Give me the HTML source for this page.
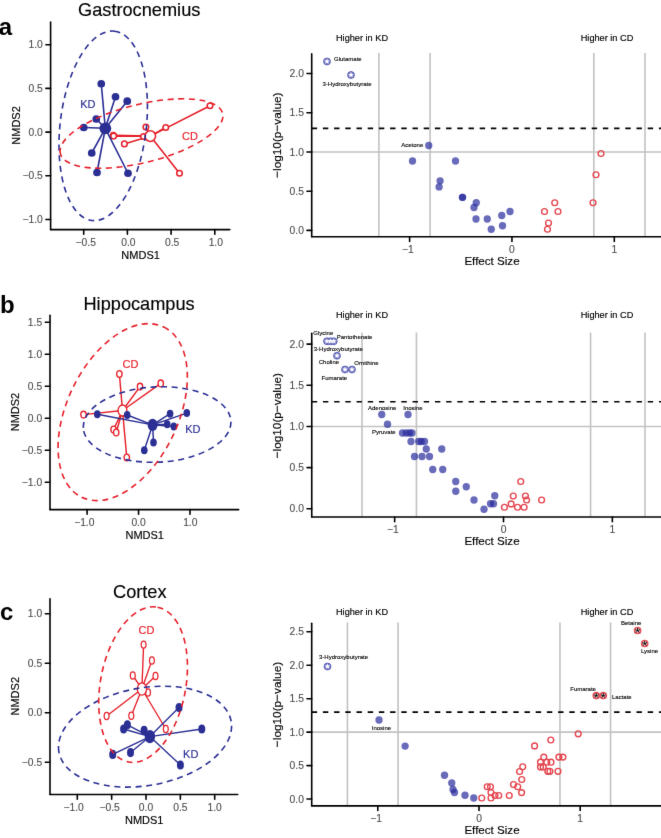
<!DOCTYPE html>
<html><head><meta charset="utf-8"><style>
html,body{margin:0;padding:0;background:#fff;}
body{width:661px;height:838px;overflow:hidden;}
svg{display:block;font-family:"Liberation Sans", sans-serif;}
</style></head><body><div id="w">
<svg width="661" height="838" viewBox="0 0 661 838">
<defs><filter id="bl" x="0" y="0" width="661" height="838" filterUnits="userSpaceOnUse" color-interpolation-filters="sRGB"><feConvolveMatrix order="3" kernelMatrix="0.0052 0.0619 0.0052 0.0619 0.731 0.0619 0.0052 0.0619 0.0052" edgeMode="duplicate" preserveAlpha="true"/></filter></defs>
<g filter="url(#bl)">
<rect width="661" height="838" fill="#fff"/>
<text x="-1.20" y="35.00" font-size="24" fill="#000" text-anchor="start" font-weight="bold" >a</text>
<text x="139.20" y="15.90" font-size="18.2" fill="#000" stroke="#000" stroke-width="0.15" text-anchor="middle" font-weight="normal" >Gastrocnemius</text>
<line x1="50.60" y1="22.10" x2="50.60" y2="229.60" stroke="#000" stroke-width="1.6" stroke-linecap="round"/>
<line x1="50.60" y1="229.60" x2="229.80" y2="229.60" stroke="#000" stroke-width="1.6" stroke-linecap="round"/>
<line x1="45.90" y1="44.70" x2="50.60" y2="44.70" stroke="#000" stroke-width="1.6" stroke-linecap="round"/>
<text x="42.80" y="48.30" font-size="10.3" fill="#4d4d4d" stroke="#4d4d4d" stroke-width="0.12" text-anchor="end" font-weight="normal" >1.0</text>
<line x1="45.90" y1="88.40" x2="50.60" y2="88.40" stroke="#000" stroke-width="1.6" stroke-linecap="round"/>
<text x="42.80" y="92.00" font-size="10.3" fill="#4d4d4d" stroke="#4d4d4d" stroke-width="0.12" text-anchor="end" font-weight="normal" >0.5</text>
<line x1="45.90" y1="132.10" x2="50.60" y2="132.10" stroke="#000" stroke-width="1.6" stroke-linecap="round"/>
<text x="42.80" y="135.70" font-size="10.3" fill="#4d4d4d" stroke="#4d4d4d" stroke-width="0.12" text-anchor="end" font-weight="normal" >0.0</text>
<line x1="45.90" y1="175.80" x2="50.60" y2="175.80" stroke="#000" stroke-width="1.6" stroke-linecap="round"/>
<text x="42.80" y="179.40" font-size="10.3" fill="#4d4d4d" stroke="#4d4d4d" stroke-width="0.12" text-anchor="end" font-weight="normal" >−0.5</text>
<line x1="45.90" y1="219.50" x2="50.60" y2="219.50" stroke="#000" stroke-width="1.6" stroke-linecap="round"/>
<text x="42.80" y="223.10" font-size="10.3" fill="#4d4d4d" stroke="#4d4d4d" stroke-width="0.12" text-anchor="end" font-weight="normal" >−1.0</text>
<line x1="83.70" y1="229.60" x2="83.70" y2="234.30" stroke="#000" stroke-width="1.6" stroke-linecap="round"/>
<text x="85.70" y="245.90" font-size="10.3" fill="#4d4d4d" stroke="#4d4d4d" stroke-width="0.12" text-anchor="middle" font-weight="normal" >−0.5</text>
<line x1="127.40" y1="229.60" x2="127.40" y2="234.30" stroke="#000" stroke-width="1.6" stroke-linecap="round"/>
<text x="128.40" y="245.90" font-size="10.3" fill="#4d4d4d" stroke="#4d4d4d" stroke-width="0.12" text-anchor="middle" font-weight="normal" >0.0</text>
<line x1="171.10" y1="229.60" x2="171.10" y2="234.30" stroke="#000" stroke-width="1.6" stroke-linecap="round"/>
<text x="172.10" y="245.90" font-size="10.3" fill="#4d4d4d" stroke="#4d4d4d" stroke-width="0.12" text-anchor="middle" font-weight="normal" >0.5</text>
<line x1="214.80" y1="229.60" x2="214.80" y2="234.30" stroke="#000" stroke-width="1.6" stroke-linecap="round"/>
<text x="215.80" y="245.90" font-size="10.3" fill="#4d4d4d" stroke="#4d4d4d" stroke-width="0.12" text-anchor="middle" font-weight="normal" >1.0</text>
<text x="140.60" y="259.30" font-size="11" fill="#000" stroke="#000" stroke-width="0.15" text-anchor="middle" font-weight="normal" >NMDS1</text>
<text x="0" y="0" font-size="11" stroke="#000" stroke-width="0.15" text-anchor="middle" transform="translate(19.60 125.45) rotate(-90)">NMDS2</text>
<line x1="210.00" y1="105.75" x2="150.30" y2="136.10" stroke="#e6202a" stroke-width="1.6" />
<line x1="165.75" y1="127.50" x2="150.30" y2="136.10" stroke="#e6202a" stroke-width="1.6" />
<line x1="145.90" y1="127.00" x2="150.30" y2="136.10" stroke="#e6202a" stroke-width="1.6" />
<line x1="124.40" y1="143.90" x2="150.30" y2="136.10" stroke="#e6202a" stroke-width="1.6" />
<line x1="113.30" y1="135.30" x2="150.30" y2="136.10" stroke="#e6202a" stroke-width="1.6" />
<line x1="113.60" y1="136.10" x2="150.30" y2="136.10" stroke="#e6202a" stroke-width="1.6" />
<line x1="179.50" y1="173.25" x2="150.30" y2="136.10" stroke="#e6202a" stroke-width="1.6" />
<line x1="143.50" y1="136.50" x2="150.30" y2="136.10" stroke="#e6202a" stroke-width="1.6" />
<ellipse cx="210.00" cy="105.75" rx="2.8" ry="2.8" fill="#fff" stroke="#e6202a" stroke-width="1.5"/>
<ellipse cx="165.75" cy="127.50" rx="2.8" ry="2.8" fill="#fff" stroke="#e6202a" stroke-width="1.5"/>
<ellipse cx="145.90" cy="127.00" rx="2.8" ry="2.8" fill="#fff" stroke="#e6202a" stroke-width="1.5"/>
<ellipse cx="124.40" cy="143.90" rx="2.8" ry="2.8" fill="#fff" stroke="#e6202a" stroke-width="1.5"/>
<ellipse cx="113.30" cy="135.30" rx="2.8" ry="2.8" fill="#fff" stroke="#e6202a" stroke-width="1.5"/>
<ellipse cx="113.60" cy="136.10" rx="2.8" ry="2.8" fill="#fff" stroke="#e6202a" stroke-width="1.5"/>
<ellipse cx="179.50" cy="173.25" rx="2.8" ry="2.8" fill="#fff" stroke="#e6202a" stroke-width="1.5"/>
<ellipse cx="143.50" cy="136.50" rx="2.8" ry="2.8" fill="#fff" stroke="#e6202a" stroke-width="1.5"/>
<ellipse cx="150.30" cy="136.10" rx="5.300000000000001" ry="5.300000000000001" fill="#fff" stroke="#e6202a" stroke-width="1.5"/>
<line x1="101.25" y1="83.75" x2="105.30" y2="128.30" stroke="#2b2f94" stroke-width="1.6" />
<line x1="115.50" y1="96.75" x2="105.30" y2="128.30" stroke="#2b2f94" stroke-width="1.6" />
<line x1="127.25" y1="101.20" x2="105.30" y2="128.30" stroke="#2b2f94" stroke-width="1.6" />
<line x1="96.25" y1="119.00" x2="105.30" y2="128.30" stroke="#2b2f94" stroke-width="1.6" />
<line x1="83.75" y1="127.50" x2="105.30" y2="128.30" stroke="#2b2f94" stroke-width="1.6" />
<line x1="91.75" y1="153.00" x2="105.30" y2="128.30" stroke="#2b2f94" stroke-width="1.6" />
<line x1="97.00" y1="172.50" x2="105.30" y2="128.30" stroke="#2b2f94" stroke-width="1.6" />
<line x1="128.00" y1="173.25" x2="105.30" y2="128.30" stroke="#2b2f94" stroke-width="1.6" />
<ellipse cx="101.25" cy="83.75" rx="3.85" ry="3.85" fill="#2b2f94"/>
<ellipse cx="115.50" cy="96.75" rx="3.85" ry="3.85" fill="#2b2f94"/>
<ellipse cx="127.25" cy="101.20" rx="3.85" ry="3.85" fill="#2b2f94"/>
<ellipse cx="96.25" cy="119.00" rx="3.85" ry="3.85" fill="#2b2f94"/>
<ellipse cx="83.75" cy="127.50" rx="3.85" ry="3.85" fill="#2b2f94"/>
<ellipse cx="91.75" cy="153.00" rx="3.85" ry="3.85" fill="#2b2f94"/>
<ellipse cx="97.00" cy="172.50" rx="3.85" ry="3.85" fill="#2b2f94"/>
<ellipse cx="128.00" cy="173.25" rx="3.85" ry="3.85" fill="#2b2f94"/>
<ellipse cx="105.30" cy="128.30" rx="5.9" ry="5.9" fill="#2b2f94"/>
<ellipse cx="103.21" cy="125.84" rx="95.33" ry="43.08" transform="rotate(-83.22 103.21 125.84)" fill="none" stroke="#2b2f94" stroke-width="1.6" stroke-dasharray="6 4.6"/>
<ellipse cx="141.51" cy="133.51" rx="83.61" ry="29.11" transform="rotate(166.05 141.51 133.51)" fill="none" stroke="#e6202a" stroke-width="1.6" stroke-dasharray="6 4.6"/>
<text x="80.20" y="108.20" font-size="11" fill="#2b2f94" stroke="#2b2f94" stroke-width="0.15" text-anchor="start" font-weight="normal" >KD</text>
<text x="182.00" y="140.00" font-size="11" fill="#e6202a" stroke="#e6202a" stroke-width="0.15" text-anchor="start" font-weight="normal" >CD</text>
<text x="0.00" y="313.20" font-size="24" fill="#000" text-anchor="start" font-weight="bold" >b</text>
<text x="139.10" y="310.00" font-size="18.2" fill="#000" stroke="#000" stroke-width="0.15" text-anchor="middle" font-weight="normal" >Hippocampus</text>
<line x1="50.00" y1="315.30" x2="50.00" y2="509.60" stroke="#000" stroke-width="1.6" stroke-linecap="round"/>
<line x1="50.00" y1="509.60" x2="238.70" y2="509.60" stroke="#000" stroke-width="1.6" stroke-linecap="round"/>
<line x1="45.30" y1="322.30" x2="50.00" y2="322.30" stroke="#000" stroke-width="1.6" stroke-linecap="round"/>
<text x="42.20" y="325.90" font-size="10.3" fill="#4d4d4d" stroke="#4d4d4d" stroke-width="0.12" text-anchor="end" font-weight="normal" >1.5</text>
<line x1="45.30" y1="354.30" x2="50.00" y2="354.30" stroke="#000" stroke-width="1.6" stroke-linecap="round"/>
<text x="42.20" y="357.90" font-size="10.3" fill="#4d4d4d" stroke="#4d4d4d" stroke-width="0.12" text-anchor="end" font-weight="normal" >1.0</text>
<line x1="45.30" y1="386.30" x2="50.00" y2="386.30" stroke="#000" stroke-width="1.6" stroke-linecap="round"/>
<text x="42.20" y="389.90" font-size="10.3" fill="#4d4d4d" stroke="#4d4d4d" stroke-width="0.12" text-anchor="end" font-weight="normal" >0.5</text>
<line x1="45.30" y1="418.30" x2="50.00" y2="418.30" stroke="#000" stroke-width="1.6" stroke-linecap="round"/>
<text x="42.20" y="421.90" font-size="10.3" fill="#4d4d4d" stroke="#4d4d4d" stroke-width="0.12" text-anchor="end" font-weight="normal" >0.0</text>
<line x1="45.30" y1="450.30" x2="50.00" y2="450.30" stroke="#000" stroke-width="1.6" stroke-linecap="round"/>
<text x="42.20" y="453.90" font-size="10.3" fill="#4d4d4d" stroke="#4d4d4d" stroke-width="0.12" text-anchor="end" font-weight="normal" >−0.5</text>
<line x1="45.30" y1="482.30" x2="50.00" y2="482.30" stroke="#000" stroke-width="1.6" stroke-linecap="round"/>
<text x="42.20" y="485.90" font-size="10.3" fill="#4d4d4d" stroke="#4d4d4d" stroke-width="0.12" text-anchor="end" font-weight="normal" >−1.0</text>
<line x1="87.10" y1="509.60" x2="87.10" y2="514.30" stroke="#000" stroke-width="1.6" stroke-linecap="round"/>
<text x="84.30" y="525.90" font-size="10.3" fill="#4d4d4d" stroke="#4d4d4d" stroke-width="0.12" text-anchor="middle" font-weight="normal" >−1.0</text>
<line x1="138.55" y1="509.60" x2="138.55" y2="514.30" stroke="#000" stroke-width="1.6" stroke-linecap="round"/>
<text x="138.55" y="525.90" font-size="10.3" fill="#4d4d4d" stroke="#4d4d4d" stroke-width="0.12" text-anchor="middle" font-weight="normal" >0.0</text>
<line x1="190.00" y1="509.60" x2="190.00" y2="514.30" stroke="#000" stroke-width="1.6" stroke-linecap="round"/>
<text x="190.30" y="525.90" font-size="10.3" fill="#4d4d4d" stroke="#4d4d4d" stroke-width="0.12" text-anchor="middle" font-weight="normal" >1.0</text>
<text x="144.75" y="539.30" font-size="11" fill="#000" stroke="#000" stroke-width="0.15" text-anchor="middle" font-weight="normal" >NMDS1</text>
<text x="0" y="0" font-size="11" stroke="#000" stroke-width="0.15" text-anchor="middle" transform="translate(19.30 412.05) rotate(-90)">NMDS2</text>
<line x1="119.40" y1="374.00" x2="122.50" y2="410.50" stroke="#e6202a" stroke-width="1.45" />
<line x1="140.00" y1="386.60" x2="122.50" y2="410.50" stroke="#e6202a" stroke-width="1.45" />
<line x1="160.75" y1="383.40" x2="122.50" y2="410.50" stroke="#e6202a" stroke-width="1.45" />
<line x1="83.50" y1="414.60" x2="122.50" y2="410.50" stroke="#e6202a" stroke-width="1.45" />
<line x1="113.60" y1="429.50" x2="122.50" y2="410.50" stroke="#e6202a" stroke-width="1.45" />
<line x1="116.20" y1="432.50" x2="122.50" y2="410.50" stroke="#e6202a" stroke-width="1.45" />
<line x1="126.80" y1="457.50" x2="122.50" y2="410.50" stroke="#e6202a" stroke-width="1.45" />
<ellipse cx="119.40" cy="374.00" rx="2.6999999999999997" ry="3.4" fill="#fff" stroke="#e6202a" stroke-width="1.35"/>
<ellipse cx="140.00" cy="386.60" rx="2.6999999999999997" ry="3.4" fill="#fff" stroke="#e6202a" stroke-width="1.35"/>
<ellipse cx="160.75" cy="383.40" rx="2.6999999999999997" ry="3.4" fill="#fff" stroke="#e6202a" stroke-width="1.35"/>
<ellipse cx="83.50" cy="414.60" rx="2.6999999999999997" ry="3.4" fill="#fff" stroke="#e6202a" stroke-width="1.35"/>
<ellipse cx="113.60" cy="429.50" rx="2.6999999999999997" ry="3.4" fill="#fff" stroke="#e6202a" stroke-width="1.35"/>
<ellipse cx="116.20" cy="432.50" rx="2.6999999999999997" ry="3.4" fill="#fff" stroke="#e6202a" stroke-width="1.35"/>
<ellipse cx="126.80" cy="457.50" rx="2.6999999999999997" ry="3.4" fill="#fff" stroke="#e6202a" stroke-width="1.35"/>
<ellipse cx="122.50" cy="410.50" rx="4.4" ry="5.5" fill="#fff" stroke="#e6202a" stroke-width="1.35"/>
<line x1="97.30" y1="414.20" x2="152.60" y2="424.90" stroke="#2b2f94" stroke-width="1.45" />
<line x1="127.20" y1="415.00" x2="152.60" y2="424.90" stroke="#2b2f94" stroke-width="1.45" />
<line x1="170.10" y1="413.70" x2="152.60" y2="424.90" stroke="#2b2f94" stroke-width="1.45" />
<line x1="186.80" y1="413.10" x2="152.60" y2="424.90" stroke="#2b2f94" stroke-width="1.45" />
<line x1="167.20" y1="424.30" x2="152.60" y2="424.90" stroke="#2b2f94" stroke-width="1.45" />
<line x1="173.80" y1="426.50" x2="152.60" y2="424.90" stroke="#2b2f94" stroke-width="1.45" />
<line x1="153.50" y1="442.50" x2="152.60" y2="424.90" stroke="#2b2f94" stroke-width="1.45" />
<line x1="144.30" y1="450.30" x2="152.60" y2="424.90" stroke="#2b2f94" stroke-width="1.45" />
<ellipse cx="97.30" cy="414.20" rx="3.3" ry="4.0" fill="#2b2f94"/>
<ellipse cx="127.20" cy="415.00" rx="3.3" ry="4.0" fill="#2b2f94"/>
<ellipse cx="170.10" cy="413.70" rx="3.3" ry="4.0" fill="#2b2f94"/>
<ellipse cx="186.80" cy="413.10" rx="3.3" ry="4.0" fill="#2b2f94"/>
<ellipse cx="167.20" cy="424.30" rx="3.3" ry="4.0" fill="#2b2f94"/>
<ellipse cx="173.80" cy="426.50" rx="3.3" ry="4.0" fill="#2b2f94"/>
<ellipse cx="153.50" cy="442.50" rx="3.3" ry="4.0" fill="#2b2f94"/>
<ellipse cx="144.30" cy="450.30" rx="3.3" ry="4.0" fill="#2b2f94"/>
<ellipse cx="152.60" cy="424.90" rx="5.0" ry="6.1" fill="#2b2f94"/>
<ellipse cx="157.13" cy="424.51" rx="73.85" ry="37.67" transform="rotate(177.37 157.13 424.51)" fill="none" stroke="#2b2f94" stroke-width="1.6" stroke-dasharray="6 4.6"/>
<ellipse cx="122.72" cy="412.13" rx="94.49" ry="55.47" transform="rotate(-64.30 122.72 412.13)" fill="none" stroke="#e6202a" stroke-width="1.6" stroke-dasharray="6 4.6"/>
<text x="185.20" y="433.30" font-size="11" fill="#2b2f94" stroke="#2b2f94" stroke-width="0.15" text-anchor="start" font-weight="normal" >KD</text>
<text x="122.50" y="367.50" font-size="11" fill="#e6202a" stroke="#e6202a" stroke-width="0.15" text-anchor="start" font-weight="normal" >CD</text>
<text x="0.00" y="619.60" font-size="24" fill="#000" text-anchor="start" font-weight="bold" >c</text>
<text x="139.80" y="597.50" font-size="18.2" fill="#000" stroke="#000" stroke-width="0.15" text-anchor="middle" font-weight="normal" >Cortex</text>
<line x1="50.00" y1="598.80" x2="50.00" y2="794.50" stroke="#000" stroke-width="1.6" stroke-linecap="round"/>
<line x1="50.00" y1="794.50" x2="237.70" y2="794.50" stroke="#000" stroke-width="1.6" stroke-linecap="round"/>
<line x1="45.30" y1="613.75" x2="50.00" y2="613.75" stroke="#000" stroke-width="1.6" stroke-linecap="round"/>
<text x="42.20" y="617.35" font-size="10.3" fill="#4d4d4d" stroke="#4d4d4d" stroke-width="0.12" text-anchor="end" font-weight="normal" >1.0</text>
<line x1="45.30" y1="663.25" x2="50.00" y2="663.25" stroke="#000" stroke-width="1.6" stroke-linecap="round"/>
<text x="42.20" y="666.85" font-size="10.3" fill="#4d4d4d" stroke="#4d4d4d" stroke-width="0.12" text-anchor="end" font-weight="normal" >0.5</text>
<line x1="45.30" y1="712.75" x2="50.00" y2="712.75" stroke="#000" stroke-width="1.6" stroke-linecap="round"/>
<text x="42.20" y="716.35" font-size="10.3" fill="#4d4d4d" stroke="#4d4d4d" stroke-width="0.12" text-anchor="end" font-weight="normal" >0.0</text>
<line x1="45.30" y1="762.25" x2="50.00" y2="762.25" stroke="#000" stroke-width="1.6" stroke-linecap="round"/>
<text x="42.20" y="765.85" font-size="10.3" fill="#4d4d4d" stroke="#4d4d4d" stroke-width="0.12" text-anchor="end" font-weight="normal" >−0.5</text>
<line x1="77.30" y1="794.50" x2="77.30" y2="799.20" stroke="#000" stroke-width="1.6" stroke-linecap="round"/>
<text x="73.60" y="810.80" font-size="10.3" fill="#4d4d4d" stroke="#4d4d4d" stroke-width="0.12" text-anchor="middle" font-weight="normal" >−1.0</text>
<line x1="111.65" y1="794.50" x2="111.65" y2="799.20" stroke="#000" stroke-width="1.6" stroke-linecap="round"/>
<text x="109.65" y="810.80" font-size="10.3" fill="#4d4d4d" stroke="#4d4d4d" stroke-width="0.12" text-anchor="middle" font-weight="normal" >−0.5</text>
<line x1="146.00" y1="794.50" x2="146.00" y2="799.20" stroke="#000" stroke-width="1.6" stroke-linecap="round"/>
<text x="146.00" y="810.80" font-size="10.3" fill="#4d4d4d" stroke="#4d4d4d" stroke-width="0.12" text-anchor="middle" font-weight="normal" >0.0</text>
<line x1="180.35" y1="794.50" x2="180.35" y2="799.20" stroke="#000" stroke-width="1.6" stroke-linecap="round"/>
<text x="180.35" y="810.80" font-size="10.3" fill="#4d4d4d" stroke="#4d4d4d" stroke-width="0.12" text-anchor="middle" font-weight="normal" >0.5</text>
<line x1="214.70" y1="794.50" x2="214.70" y2="799.20" stroke="#000" stroke-width="1.6" stroke-linecap="round"/>
<text x="214.70" y="810.80" font-size="10.3" fill="#4d4d4d" stroke="#4d4d4d" stroke-width="0.12" text-anchor="middle" font-weight="normal" >1.0</text>
<text x="144.25" y="824.20" font-size="11" fill="#000" stroke="#000" stroke-width="0.15" text-anchor="middle" font-weight="normal" >NMDS1</text>
<text x="0" y="0" font-size="11" stroke="#000" stroke-width="0.15" text-anchor="middle" transform="translate(19.30 696.25) rotate(-90)">NMDS2</text>
<line x1="143.60" y1="644.60" x2="141.90" y2="689.00" stroke="#e6202a" stroke-width="1.35" />
<line x1="151.90" y1="660.40" x2="141.90" y2="689.00" stroke="#e6202a" stroke-width="1.35" />
<line x1="132.80" y1="675.40" x2="141.90" y2="689.00" stroke="#e6202a" stroke-width="1.35" />
<line x1="155.50" y1="676.00" x2="141.90" y2="689.00" stroke="#e6202a" stroke-width="1.35" />
<line x1="148.00" y1="692.50" x2="141.90" y2="689.00" stroke="#e6202a" stroke-width="1.35" />
<line x1="106.60" y1="716.00" x2="141.90" y2="689.00" stroke="#e6202a" stroke-width="1.35" />
<line x1="131.30" y1="715.80" x2="141.90" y2="689.00" stroke="#e6202a" stroke-width="1.35" />
<line x1="165.80" y1="729.00" x2="141.90" y2="689.00" stroke="#e6202a" stroke-width="1.35" />
<ellipse cx="143.60" cy="644.60" rx="2.45" ry="3.6" fill="#fff" stroke="#e6202a" stroke-width="1.25"/>
<ellipse cx="151.90" cy="660.40" rx="2.45" ry="3.6" fill="#fff" stroke="#e6202a" stroke-width="1.25"/>
<ellipse cx="132.80" cy="675.40" rx="2.45" ry="3.6" fill="#fff" stroke="#e6202a" stroke-width="1.25"/>
<ellipse cx="155.50" cy="676.00" rx="2.45" ry="3.6" fill="#fff" stroke="#e6202a" stroke-width="1.25"/>
<ellipse cx="148.00" cy="692.50" rx="2.45" ry="3.6" fill="#fff" stroke="#e6202a" stroke-width="1.25"/>
<ellipse cx="106.60" cy="716.00" rx="2.45" ry="3.6" fill="#fff" stroke="#e6202a" stroke-width="1.25"/>
<ellipse cx="131.30" cy="715.80" rx="2.45" ry="3.6" fill="#fff" stroke="#e6202a" stroke-width="1.25"/>
<ellipse cx="165.80" cy="729.00" rx="2.45" ry="3.6" fill="#fff" stroke="#e6202a" stroke-width="1.25"/>
<ellipse cx="141.90" cy="689.00" rx="4.6000000000000005" ry="6.1000000000000005" fill="#fff" stroke="#e6202a" stroke-width="1.25"/>
<line x1="179.00" y1="707.60" x2="149.90" y2="736.60" stroke="#2b2f94" stroke-width="1.35" />
<line x1="201.80" y1="729.00" x2="149.90" y2="736.60" stroke="#2b2f94" stroke-width="1.35" />
<line x1="127.40" y1="724.80" x2="149.90" y2="736.60" stroke="#2b2f94" stroke-width="1.35" />
<line x1="123.60" y1="729.00" x2="149.90" y2="736.60" stroke="#2b2f94" stroke-width="1.35" />
<line x1="144.10" y1="730.40" x2="149.90" y2="736.60" stroke="#2b2f94" stroke-width="1.35" />
<line x1="112.70" y1="754.40" x2="149.90" y2="736.60" stroke="#2b2f94" stroke-width="1.35" />
<line x1="130.50" y1="752.60" x2="149.90" y2="736.60" stroke="#2b2f94" stroke-width="1.35" />
<line x1="180.40" y1="765.00" x2="149.90" y2="736.60" stroke="#2b2f94" stroke-width="1.35" />
<ellipse cx="179.00" cy="707.60" rx="3.5" ry="4.6" fill="#2b2f94"/>
<ellipse cx="201.80" cy="729.00" rx="3.5" ry="4.6" fill="#2b2f94"/>
<ellipse cx="127.40" cy="724.80" rx="3.5" ry="4.6" fill="#2b2f94"/>
<ellipse cx="123.60" cy="729.00" rx="3.5" ry="4.6" fill="#2b2f94"/>
<ellipse cx="144.10" cy="730.40" rx="3.5" ry="4.6" fill="#2b2f94"/>
<ellipse cx="112.70" cy="754.40" rx="3.5" ry="4.6" fill="#2b2f94"/>
<ellipse cx="130.50" cy="752.60" rx="3.5" ry="4.6" fill="#2b2f94"/>
<ellipse cx="180.40" cy="765.00" rx="3.5" ry="4.6" fill="#2b2f94"/>
<ellipse cx="149.90" cy="736.60" rx="5.2" ry="6.7" fill="#2b2f94"/>
<ellipse cx="145.03" cy="736.67" rx="87.47" ry="48.82" transform="rotate(169.93 145.03 736.67)" fill="none" stroke="#2b2f94" stroke-width="1.6" stroke-dasharray="6 4.6"/>
<ellipse cx="143.09" cy="684.57" rx="78.72" ry="42.68" transform="rotate(-79.43 143.09 684.57)" fill="none" stroke="#e6202a" stroke-width="1.6" stroke-dasharray="6 4.6"/>
<text x="183.10" y="757.70" font-size="11" fill="#2b2f94" stroke="#2b2f94" stroke-width="0.15" text-anchor="start" font-weight="normal" >KD</text>
<text x="138.60" y="634.30" font-size="11" fill="#e6202a" stroke="#e6202a" stroke-width="0.15" text-anchor="start" font-weight="normal" >CD</text>
<line x1="378.89" y1="53.00" x2="378.89" y2="236.80" stroke="#c2c2c2" stroke-width="1.6" />
<line x1="430.07" y1="53.00" x2="430.07" y2="236.80" stroke="#c2c2c2" stroke-width="1.6" />
<line x1="593.83" y1="53.00" x2="593.83" y2="236.80" stroke="#c2c2c2" stroke-width="1.6" />
<line x1="645.00" y1="53.00" x2="645.00" y2="236.80" stroke="#c2c2c2" stroke-width="1.6" />
<line x1="311.70" y1="151.95" x2="661.00" y2="151.95" stroke="#c2c2c2" stroke-width="1.6" />
<line x1="311.70" y1="128.41" x2="661.00" y2="128.41" stroke="#000" stroke-width="1.6" stroke-dasharray="5.4 5.8"/>
<line x1="311.70" y1="53.80" x2="311.70" y2="236.80" stroke="#000" stroke-width="1.6" stroke-linecap="round"/>
<line x1="311.70" y1="236.80" x2="663.00" y2="236.80" stroke="#000" stroke-width="1.6" stroke-linecap="round"/>
<line x1="307.00" y1="230.40" x2="311.70" y2="230.40" stroke="#000" stroke-width="1.6" stroke-linecap="round"/>
<text x="303.90" y="234.00" font-size="10.3" fill="#4d4d4d" stroke="#4d4d4d" stroke-width="0.12" text-anchor="end" font-weight="normal" >0.0</text>
<line x1="307.00" y1="191.18" x2="311.70" y2="191.18" stroke="#000" stroke-width="1.6" stroke-linecap="round"/>
<text x="303.90" y="194.78" font-size="10.3" fill="#4d4d4d" stroke="#4d4d4d" stroke-width="0.12" text-anchor="end" font-weight="normal" >0.5</text>
<line x1="307.00" y1="151.95" x2="311.70" y2="151.95" stroke="#000" stroke-width="1.6" stroke-linecap="round"/>
<text x="303.90" y="155.55" font-size="10.3" fill="#4d4d4d" stroke="#4d4d4d" stroke-width="0.12" text-anchor="end" font-weight="normal" >1.0</text>
<line x1="307.00" y1="112.72" x2="311.70" y2="112.72" stroke="#000" stroke-width="1.6" stroke-linecap="round"/>
<text x="303.90" y="116.32" font-size="10.3" fill="#4d4d4d" stroke="#4d4d4d" stroke-width="0.12" text-anchor="end" font-weight="normal" >1.5</text>
<line x1="307.00" y1="73.50" x2="311.70" y2="73.50" stroke="#000" stroke-width="1.6" stroke-linecap="round"/>
<text x="303.90" y="77.10" font-size="10.3" fill="#4d4d4d" stroke="#4d4d4d" stroke-width="0.12" text-anchor="end" font-weight="normal" >2.0</text>
<line x1="409.60" y1="236.80" x2="409.60" y2="241.50" stroke="#000" stroke-width="1.6" stroke-linecap="round"/>
<text x="407.80" y="252.70" font-size="10.3" fill="#4d4d4d" stroke="#4d4d4d" stroke-width="0.12" text-anchor="middle" font-weight="normal" >−1</text>
<line x1="511.95" y1="236.80" x2="511.95" y2="241.50" stroke="#000" stroke-width="1.6" stroke-linecap="round"/>
<text x="511.95" y="252.70" font-size="10.3" fill="#4d4d4d" stroke="#4d4d4d" stroke-width="0.12" text-anchor="middle" font-weight="normal" >0</text>
<line x1="614.30" y1="236.80" x2="614.30" y2="241.50" stroke="#000" stroke-width="1.6" stroke-linecap="round"/>
<text x="614.30" y="252.70" font-size="10.3" fill="#4d4d4d" stroke="#4d4d4d" stroke-width="0.12" text-anchor="middle" font-weight="normal" >1</text>
<text x="492.00" y="264.70" font-size="11.6" fill="#000" stroke="#000" stroke-width="0.15" text-anchor="middle" font-weight="normal" >Effect Size</text>
<text x="0" y="0" font-size="11.8" stroke="#000" stroke-width="0.15" text-anchor="middle" transform="translate(280.60 135.20) rotate(-90)">−log10(p−value)</text>
<text x="362.00" y="40.60" font-size="9.2" fill="#000" stroke="#000" stroke-width="0.15" text-anchor="middle" font-weight="normal" >Higher in KD</text>
<text x="607.00" y="40.60" font-size="9.2" fill="#000" stroke="#000" stroke-width="0.15" text-anchor="middle" font-weight="normal" >Higher in CD</text>
<circle cx="428.75" cy="145.50" r="3.65" fill="#282b9c" fill-opacity="0.7"/>
<circle cx="412.50" cy="161.00" r="3.65" fill="#282b9c" fill-opacity="0.7"/>
<circle cx="455.50" cy="161.00" r="3.65" fill="#282b9c" fill-opacity="0.7"/>
<circle cx="440.10" cy="180.80" r="3.65" fill="#282b9c" fill-opacity="0.7"/>
<circle cx="439.10" cy="186.90" r="3.65" fill="#282b9c" fill-opacity="0.7"/>
<circle cx="462.50" cy="197.30" r="3.65" fill="#282b9c" fill-opacity="0.7"/>
<circle cx="462.50" cy="197.30" r="3.65" fill="#282b9c" fill-opacity="0.7"/>
<circle cx="476.25" cy="202.75" r="3.65" fill="#282b9c" fill-opacity="0.7"/>
<circle cx="474.00" cy="207.50" r="3.65" fill="#282b9c" fill-opacity="0.7"/>
<circle cx="476.00" cy="219.00" r="3.65" fill="#282b9c" fill-opacity="0.7"/>
<circle cx="487.25" cy="219.00" r="3.65" fill="#282b9c" fill-opacity="0.7"/>
<circle cx="491.25" cy="229.25" r="3.65" fill="#282b9c" fill-opacity="0.7"/>
<circle cx="501.75" cy="215.50" r="3.65" fill="#282b9c" fill-opacity="0.7"/>
<circle cx="502.50" cy="225.75" r="3.65" fill="#282b9c" fill-opacity="0.7"/>
<circle cx="510.00" cy="211.50" r="3.65" fill="#282b9c" fill-opacity="0.7"/>
<circle cx="601.00" cy="153.50" r="2.9" fill="none" stroke="#e4454f" stroke-width="1.4"/>
<circle cx="596.00" cy="174.75" r="2.9" fill="none" stroke="#e4454f" stroke-width="1.4"/>
<circle cx="593.00" cy="202.75" r="2.9" fill="none" stroke="#e4454f" stroke-width="1.4"/>
<circle cx="554.75" cy="202.75" r="2.9" fill="none" stroke="#e4454f" stroke-width="1.4"/>
<circle cx="544.50" cy="211.50" r="2.9" fill="none" stroke="#e4454f" stroke-width="1.4"/>
<circle cx="558.00" cy="211.50" r="2.9" fill="none" stroke="#e4454f" stroke-width="1.4"/>
<circle cx="548.50" cy="223.00" r="2.9" fill="none" stroke="#e4454f" stroke-width="1.4"/>
<circle cx="547.50" cy="229.25" r="2.9" fill="none" stroke="#e4454f" stroke-width="1.4"/>
<circle cx="327.00" cy="61.50" r="3.45" fill="#7d80c9" stroke="#5256ad" stroke-width="0.85"/>
<circle cx="351.00" cy="75.00" r="3.45" fill="#7d80c9" stroke="#5256ad" stroke-width="0.85"/>
<polygon points="327.00,58.60 327.76,60.45 329.76,60.60 328.24,61.90 328.70,63.85 327.00,62.80 325.30,63.85 325.76,61.90 324.24,60.60 326.24,60.45" fill="#fff"/>
<polygon points="351.00,72.10 351.76,73.95 353.76,74.10 352.24,75.40 352.70,77.35 351.00,76.30 349.30,77.35 349.76,75.40 348.24,74.10 350.24,73.95" fill="#fff"/>
<text x="334.00" y="61.10" font-size="6" fill="#000" stroke="#000" stroke-width="0.12" text-anchor="start" font-weight="normal" >Glutamate</text>
<text x="322.50" y="85.60" font-size="6" fill="#000" stroke="#000" stroke-width="0.12" text-anchor="start" font-weight="normal" >3-Hydroxybutyrate</text>
<text x="401.25" y="147.10" font-size="6" fill="#000" stroke="#000" stroke-width="0.12" text-anchor="start" font-weight="normal" >Acetone</text>
<line x1="362.00" y1="332.50" x2="362.00" y2="517.00" stroke="#c2c2c2" stroke-width="1.6" />
<line x1="416.42" y1="332.50" x2="416.42" y2="517.00" stroke="#c2c2c2" stroke-width="1.6" />
<line x1="590.58" y1="332.50" x2="590.58" y2="517.00" stroke="#c2c2c2" stroke-width="1.6" />
<line x1="645.00" y1="332.50" x2="645.00" y2="517.00" stroke="#c2c2c2" stroke-width="1.6" />
<line x1="311.75" y1="426.45" x2="661.00" y2="426.45" stroke="#c2c2c2" stroke-width="1.6" />
<line x1="311.75" y1="401.75" x2="661.00" y2="401.75" stroke="#000" stroke-width="1.6" stroke-dasharray="5.4 5.8"/>
<line x1="311.75" y1="333.30" x2="311.75" y2="517.00" stroke="#000" stroke-width="1.6" stroke-linecap="round"/>
<line x1="311.75" y1="517.00" x2="663.00" y2="517.00" stroke="#000" stroke-width="1.6" stroke-linecap="round"/>
<line x1="307.05" y1="508.80" x2="311.75" y2="508.80" stroke="#000" stroke-width="1.6" stroke-linecap="round"/>
<text x="303.95" y="512.40" font-size="10.3" fill="#4d4d4d" stroke="#4d4d4d" stroke-width="0.12" text-anchor="end" font-weight="normal" >0.0</text>
<line x1="307.05" y1="467.62" x2="311.75" y2="467.62" stroke="#000" stroke-width="1.6" stroke-linecap="round"/>
<text x="303.95" y="471.23" font-size="10.3" fill="#4d4d4d" stroke="#4d4d4d" stroke-width="0.12" text-anchor="end" font-weight="normal" >0.5</text>
<line x1="307.05" y1="426.45" x2="311.75" y2="426.45" stroke="#000" stroke-width="1.6" stroke-linecap="round"/>
<text x="303.95" y="430.05" font-size="10.3" fill="#4d4d4d" stroke="#4d4d4d" stroke-width="0.12" text-anchor="end" font-weight="normal" >1.0</text>
<line x1="307.05" y1="385.28" x2="311.75" y2="385.28" stroke="#000" stroke-width="1.6" stroke-linecap="round"/>
<text x="303.95" y="388.88" font-size="10.3" fill="#4d4d4d" stroke="#4d4d4d" stroke-width="0.12" text-anchor="end" font-weight="normal" >1.5</text>
<line x1="307.05" y1="344.10" x2="311.75" y2="344.10" stroke="#000" stroke-width="1.6" stroke-linecap="round"/>
<text x="303.95" y="347.70" font-size="10.3" fill="#4d4d4d" stroke="#4d4d4d" stroke-width="0.12" text-anchor="end" font-weight="normal" >2.0</text>
<line x1="394.65" y1="517.00" x2="394.65" y2="521.70" stroke="#000" stroke-width="1.6" stroke-linecap="round"/>
<text x="392.85" y="532.90" font-size="10.3" fill="#4d4d4d" stroke="#4d4d4d" stroke-width="0.12" text-anchor="middle" font-weight="normal" >−1</text>
<line x1="503.50" y1="517.00" x2="503.50" y2="521.70" stroke="#000" stroke-width="1.6" stroke-linecap="round"/>
<text x="503.50" y="532.90" font-size="10.3" fill="#4d4d4d" stroke="#4d4d4d" stroke-width="0.12" text-anchor="middle" font-weight="normal" >0</text>
<line x1="612.35" y1="517.00" x2="612.35" y2="521.70" stroke="#000" stroke-width="1.6" stroke-linecap="round"/>
<text x="612.35" y="532.90" font-size="10.3" fill="#4d4d4d" stroke="#4d4d4d" stroke-width="0.12" text-anchor="middle" font-weight="normal" >1</text>
<text x="492.00" y="544.90" font-size="11.6" fill="#000" stroke="#000" stroke-width="0.15" text-anchor="middle" font-weight="normal" >Effect Size</text>
<text x="0" y="0" font-size="11.8" stroke="#000" stroke-width="0.15" text-anchor="middle" transform="translate(280.60 415.70) rotate(-90)">−log10(p−value)</text>
<text x="362.00" y="318.30" font-size="9.2" fill="#000" stroke="#000" stroke-width="0.15" text-anchor="middle" font-weight="normal" >Higher in KD</text>
<text x="607.00" y="318.30" font-size="9.2" fill="#000" stroke="#000" stroke-width="0.15" text-anchor="middle" font-weight="normal" >Higher in CD</text>
<circle cx="381.75" cy="414.50" r="3.65" fill="#282b9c" fill-opacity="0.7"/>
<circle cx="408.00" cy="414.50" r="3.65" fill="#282b9c" fill-opacity="0.7"/>
<circle cx="387.50" cy="424.25" r="3.65" fill="#282b9c" fill-opacity="0.7"/>
<circle cx="402.50" cy="433.00" r="3.65" fill="#282b9c" fill-opacity="0.7"/>
<circle cx="406.25" cy="433.00" r="3.65" fill="#282b9c" fill-opacity="0.7"/>
<circle cx="409.50" cy="433.00" r="3.65" fill="#282b9c" fill-opacity="0.7"/>
<circle cx="412.00" cy="433.00" r="3.65" fill="#282b9c" fill-opacity="0.7"/>
<circle cx="411.00" cy="441.50" r="3.65" fill="#282b9c" fill-opacity="0.7"/>
<circle cx="418.75" cy="441.50" r="3.65" fill="#282b9c" fill-opacity="0.7"/>
<circle cx="421.25" cy="441.50" r="3.65" fill="#282b9c" fill-opacity="0.7"/>
<circle cx="424.50" cy="441.50" r="3.65" fill="#282b9c" fill-opacity="0.7"/>
<circle cx="426.25" cy="449.00" r="3.65" fill="#282b9c" fill-opacity="0.7"/>
<circle cx="441.75" cy="449.00" r="3.65" fill="#282b9c" fill-opacity="0.7"/>
<circle cx="414.50" cy="456.50" r="3.65" fill="#282b9c" fill-opacity="0.7"/>
<circle cx="422.00" cy="456.50" r="3.65" fill="#282b9c" fill-opacity="0.7"/>
<circle cx="429.50" cy="456.50" r="3.65" fill="#282b9c" fill-opacity="0.7"/>
<circle cx="432.75" cy="469.50" r="3.65" fill="#282b9c" fill-opacity="0.7"/>
<circle cx="442.75" cy="469.50" r="3.65" fill="#282b9c" fill-opacity="0.7"/>
<circle cx="455.75" cy="481.50" r="3.65" fill="#282b9c" fill-opacity="0.7"/>
<circle cx="466.25" cy="486.75" r="3.65" fill="#282b9c" fill-opacity="0.7"/>
<circle cx="455.75" cy="491.25" r="3.65" fill="#282b9c" fill-opacity="0.7"/>
<circle cx="474.00" cy="500.00" r="3.65" fill="#282b9c" fill-opacity="0.7"/>
<circle cx="494.75" cy="495.75" r="3.65" fill="#282b9c" fill-opacity="0.7"/>
<circle cx="490.50" cy="503.75" r="3.65" fill="#282b9c" fill-opacity="0.7"/>
<circle cx="493.50" cy="503.75" r="3.65" fill="#282b9c" fill-opacity="0.7"/>
<circle cx="484.00" cy="509.25" r="3.65" fill="#282b9c" fill-opacity="0.7"/>
<circle cx="520.75" cy="481.50" r="2.9" fill="none" stroke="#e4454f" stroke-width="1.4"/>
<circle cx="513.25" cy="496.00" r="2.9" fill="none" stroke="#e4454f" stroke-width="1.4"/>
<circle cx="525.40" cy="496.00" r="2.9" fill="none" stroke="#e4454f" stroke-width="1.4"/>
<circle cx="526.60" cy="500.00" r="2.9" fill="none" stroke="#e4454f" stroke-width="1.4"/>
<circle cx="541.60" cy="500.00" r="2.9" fill="none" stroke="#e4454f" stroke-width="1.4"/>
<circle cx="511.10" cy="503.90" r="2.9" fill="none" stroke="#e4454f" stroke-width="1.4"/>
<circle cx="504.40" cy="507.25" r="2.9" fill="none" stroke="#e4454f" stroke-width="1.4"/>
<circle cx="517.50" cy="507.25" r="2.9" fill="none" stroke="#e4454f" stroke-width="1.4"/>
<circle cx="524.10" cy="507.25" r="2.9" fill="none" stroke="#e4454f" stroke-width="1.4"/>
<circle cx="327.00" cy="341.25" r="3.45" fill="#7d80c9" stroke="#5256ad" stroke-width="0.85"/>
<circle cx="330.50" cy="341.25" r="3.45" fill="#7d80c9" stroke="#5256ad" stroke-width="0.85"/>
<circle cx="333.75" cy="341.25" r="3.45" fill="#7d80c9" stroke="#5256ad" stroke-width="0.85"/>
<circle cx="337.00" cy="355.75" r="3.45" fill="#7d80c9" stroke="#5256ad" stroke-width="0.85"/>
<circle cx="345.00" cy="369.50" r="3.45" fill="#7d80c9" stroke="#5256ad" stroke-width="0.85"/>
<circle cx="352.00" cy="369.50" r="3.45" fill="#7d80c9" stroke="#5256ad" stroke-width="0.85"/>
<polygon points="327.00,338.35 327.76,340.20 329.76,340.35 328.24,341.65 328.70,343.60 327.00,342.55 325.30,343.60 325.76,341.65 324.24,340.35 326.24,340.20" fill="#fff"/>
<polygon points="330.50,338.35 331.26,340.20 333.26,340.35 331.74,341.65 332.20,343.60 330.50,342.55 328.80,343.60 329.26,341.65 327.74,340.35 329.74,340.20" fill="#fff"/>
<polygon points="333.75,338.35 334.51,340.20 336.51,340.35 334.99,341.65 335.45,343.60 333.75,342.55 332.05,343.60 332.51,341.65 330.99,340.35 332.99,340.20" fill="#fff"/>
<polygon points="337.00,352.85 337.76,354.70 339.76,354.85 338.24,356.15 338.70,358.10 337.00,357.05 335.30,358.10 335.76,356.15 334.24,354.85 336.24,354.70" fill="#fff"/>
<polygon points="345.00,366.60 345.76,368.45 347.76,368.60 346.24,369.90 346.70,371.85 345.00,370.80 343.30,371.85 343.76,369.90 342.24,368.60 344.24,368.45" fill="#fff"/>
<polygon points="352.00,366.60 352.76,368.45 354.76,368.60 353.24,369.90 353.70,371.85 352.00,370.80 350.30,371.85 350.76,369.90 349.24,368.60 351.24,368.45" fill="#fff"/>
<text x="313.25" y="335.35" font-size="6" fill="#000" stroke="#000" stroke-width="0.12" text-anchor="start" font-weight="normal" >Glycine</text>
<text x="336.75" y="338.85" font-size="6" fill="#000" stroke="#000" stroke-width="0.12" text-anchor="start" font-weight="normal" >Pantothenate</text>
<text x="313.75" y="350.85" font-size="6" fill="#000" stroke="#000" stroke-width="0.12" text-anchor="start" font-weight="normal" >3-Hydroxybutyrate</text>
<text x="318.75" y="364.10" font-size="6" fill="#000" stroke="#000" stroke-width="0.12" text-anchor="start" font-weight="normal" >Choline</text>
<text x="354.25" y="365.35" font-size="6" fill="#000" stroke="#000" stroke-width="0.12" text-anchor="start" font-weight="normal" >Ornithine</text>
<text x="321.50" y="380.10" font-size="6" fill="#000" stroke="#000" stroke-width="0.12" text-anchor="start" font-weight="normal" >Fumarate</text>
<text x="368.00" y="409.60" font-size="6" fill="#000" stroke="#000" stroke-width="0.12" text-anchor="start" font-weight="normal" >Adenosine</text>
<text x="403.25" y="409.60" font-size="6" fill="#000" stroke="#000" stroke-width="0.12" text-anchor="start" font-weight="normal" >Inosine</text>
<text x="372.00" y="434.10" font-size="6" fill="#000" stroke="#000" stroke-width="0.12" text-anchor="start" font-weight="normal" >Pyruvate</text>
<line x1="347.44" y1="622.50" x2="347.44" y2="805.85" stroke="#c2c2c2" stroke-width="1.6" />
<line x1="398.04" y1="622.50" x2="398.04" y2="805.85" stroke="#c2c2c2" stroke-width="1.6" />
<line x1="559.96" y1="622.50" x2="559.96" y2="805.85" stroke="#c2c2c2" stroke-width="1.6" />
<line x1="610.56" y1="622.50" x2="610.56" y2="805.85" stroke="#c2c2c2" stroke-width="1.6" />
<line x1="311.70" y1="732.15" x2="661.00" y2="732.15" stroke="#c2c2c2" stroke-width="1.6" />
<line x1="311.70" y1="712.08" x2="661.00" y2="712.08" stroke="#000" stroke-width="1.6" stroke-dasharray="5.4 5.8"/>
<line x1="311.70" y1="623.30" x2="311.70" y2="805.85" stroke="#000" stroke-width="1.6" stroke-linecap="round"/>
<line x1="311.70" y1="805.85" x2="663.00" y2="805.85" stroke="#000" stroke-width="1.6" stroke-linecap="round"/>
<line x1="307.00" y1="799.05" x2="311.70" y2="799.05" stroke="#000" stroke-width="1.6" stroke-linecap="round"/>
<text x="303.90" y="802.65" font-size="10.3" fill="#4d4d4d" stroke="#4d4d4d" stroke-width="0.12" text-anchor="end" font-weight="normal" >0.0</text>
<line x1="307.00" y1="765.60" x2="311.70" y2="765.60" stroke="#000" stroke-width="1.6" stroke-linecap="round"/>
<text x="303.90" y="769.20" font-size="10.3" fill="#4d4d4d" stroke="#4d4d4d" stroke-width="0.12" text-anchor="end" font-weight="normal" >0.5</text>
<line x1="307.00" y1="732.15" x2="311.70" y2="732.15" stroke="#000" stroke-width="1.6" stroke-linecap="round"/>
<text x="303.90" y="735.75" font-size="10.3" fill="#4d4d4d" stroke="#4d4d4d" stroke-width="0.12" text-anchor="end" font-weight="normal" >1.0</text>
<line x1="307.00" y1="698.70" x2="311.70" y2="698.70" stroke="#000" stroke-width="1.6" stroke-linecap="round"/>
<text x="303.90" y="702.30" font-size="10.3" fill="#4d4d4d" stroke="#4d4d4d" stroke-width="0.12" text-anchor="end" font-weight="normal" >1.5</text>
<line x1="307.00" y1="665.25" x2="311.70" y2="665.25" stroke="#000" stroke-width="1.6" stroke-linecap="round"/>
<text x="303.90" y="668.85" font-size="10.3" fill="#4d4d4d" stroke="#4d4d4d" stroke-width="0.12" text-anchor="end" font-weight="normal" >2.0</text>
<line x1="307.00" y1="631.80" x2="311.70" y2="631.80" stroke="#000" stroke-width="1.6" stroke-linecap="round"/>
<text x="303.90" y="635.40" font-size="10.3" fill="#4d4d4d" stroke="#4d4d4d" stroke-width="0.12" text-anchor="end" font-weight="normal" >2.5</text>
<line x1="377.80" y1="805.85" x2="377.80" y2="810.55" stroke="#000" stroke-width="1.6" stroke-linecap="round"/>
<text x="376.00" y="821.75" font-size="10.3" fill="#4d4d4d" stroke="#4d4d4d" stroke-width="0.12" text-anchor="middle" font-weight="normal" >−1</text>
<line x1="479.00" y1="805.85" x2="479.00" y2="810.55" stroke="#000" stroke-width="1.6" stroke-linecap="round"/>
<text x="479.00" y="821.75" font-size="10.3" fill="#4d4d4d" stroke="#4d4d4d" stroke-width="0.12" text-anchor="middle" font-weight="normal" >0</text>
<line x1="580.20" y1="805.85" x2="580.20" y2="810.55" stroke="#000" stroke-width="1.6" stroke-linecap="round"/>
<text x="580.20" y="821.75" font-size="10.3" fill="#4d4d4d" stroke="#4d4d4d" stroke-width="0.12" text-anchor="middle" font-weight="normal" >1</text>
<text x="492.00" y="833.75" font-size="11.6" fill="#000" stroke="#000" stroke-width="0.15" text-anchor="middle" font-weight="normal" >Effect Size</text>
<text x="0" y="0" font-size="11.8" stroke="#000" stroke-width="0.15" text-anchor="middle" transform="translate(280.60 704.50) rotate(-90)">−log10(p−value)</text>
<text x="362.00" y="615.00" font-size="9.2" fill="#000" stroke="#000" stroke-width="0.15" text-anchor="middle" font-weight="normal" >Higher in KD</text>
<text x="607.00" y="615.00" font-size="9.2" fill="#000" stroke="#000" stroke-width="0.15" text-anchor="middle" font-weight="normal" >Higher in CD</text>
<circle cx="379.00" cy="720.00" r="3.65" fill="#282b9c" fill-opacity="0.7"/>
<circle cx="405.10" cy="746.10" r="3.65" fill="#282b9c" fill-opacity="0.7"/>
<circle cx="444.50" cy="775.25" r="3.65" fill="#282b9c" fill-opacity="0.7"/>
<circle cx="451.75" cy="783.00" r="3.65" fill="#282b9c" fill-opacity="0.7"/>
<circle cx="453.00" cy="789.50" r="3.65" fill="#282b9c" fill-opacity="0.7"/>
<circle cx="454.50" cy="792.50" r="3.65" fill="#282b9c" fill-opacity="0.7"/>
<circle cx="465.00" cy="795.25" r="3.65" fill="#282b9c" fill-opacity="0.7"/>
<circle cx="473.75" cy="798.00" r="3.65" fill="#282b9c" fill-opacity="0.7"/>
<circle cx="481.75" cy="798.00" r="2.9" fill="none" stroke="#e4454f" stroke-width="1.4"/>
<circle cx="487.25" cy="786.75" r="2.9" fill="none" stroke="#e4454f" stroke-width="1.4"/>
<circle cx="490.50" cy="786.75" r="2.9" fill="none" stroke="#e4454f" stroke-width="1.4"/>
<circle cx="491.00" cy="792.50" r="2.9" fill="none" stroke="#e4454f" stroke-width="1.4"/>
<circle cx="491.00" cy="798.00" r="2.9" fill="none" stroke="#e4454f" stroke-width="1.4"/>
<circle cx="495.00" cy="795.50" r="2.9" fill="none" stroke="#e4454f" stroke-width="1.4"/>
<circle cx="498.75" cy="795.50" r="2.9" fill="none" stroke="#e4454f" stroke-width="1.4"/>
<circle cx="509.25" cy="795.50" r="2.9" fill="none" stroke="#e4454f" stroke-width="1.4"/>
<circle cx="513.50" cy="784.50" r="2.9" fill="none" stroke="#e4454f" stroke-width="1.4"/>
<circle cx="517.75" cy="786.75" r="2.9" fill="none" stroke="#e4454f" stroke-width="1.4"/>
<circle cx="521.60" cy="792.60" r="2.9" fill="none" stroke="#e4454f" stroke-width="1.4"/>
<circle cx="521.75" cy="779.50" r="2.9" fill="none" stroke="#e4454f" stroke-width="1.4"/>
<circle cx="519.60" cy="771.50" r="2.9" fill="none" stroke="#e4454f" stroke-width="1.4"/>
<circle cx="522.75" cy="766.75" r="2.9" fill="none" stroke="#e4454f" stroke-width="1.4"/>
<circle cx="534.60" cy="745.90" r="2.9" fill="none" stroke="#e4454f" stroke-width="1.4"/>
<circle cx="550.80" cy="740.00" r="2.9" fill="none" stroke="#e4454f" stroke-width="1.4"/>
<circle cx="543.80" cy="757.10" r="2.9" fill="none" stroke="#e4454f" stroke-width="1.4"/>
<circle cx="540.50" cy="762.20" r="2.9" fill="none" stroke="#e4454f" stroke-width="1.4"/>
<circle cx="546.75" cy="762.20" r="2.9" fill="none" stroke="#e4454f" stroke-width="1.4"/>
<circle cx="551.00" cy="762.20" r="2.9" fill="none" stroke="#e4454f" stroke-width="1.4"/>
<circle cx="540.50" cy="766.90" r="2.9" fill="none" stroke="#e4454f" stroke-width="1.4"/>
<circle cx="543.20" cy="766.90" r="2.9" fill="none" stroke="#e4454f" stroke-width="1.4"/>
<circle cx="547.80" cy="771.30" r="2.9" fill="none" stroke="#e4454f" stroke-width="1.4"/>
<circle cx="549.90" cy="771.30" r="2.9" fill="none" stroke="#e4454f" stroke-width="1.4"/>
<circle cx="558.00" cy="771.30" r="2.9" fill="none" stroke="#e4454f" stroke-width="1.4"/>
<circle cx="558.90" cy="757.10" r="2.9" fill="none" stroke="#e4454f" stroke-width="1.4"/>
<circle cx="562.90" cy="757.10" r="2.9" fill="none" stroke="#e4454f" stroke-width="1.4"/>
<circle cx="578.20" cy="733.80" r="2.9" fill="none" stroke="#e4454f" stroke-width="1.4"/>
<circle cx="327.50" cy="666.50" r="3.45" fill="#7d80c9" stroke="#5256ad" stroke-width="0.85"/>
<polygon points="327.50,663.60 328.26,665.45 330.26,665.60 328.74,666.90 329.20,668.85 327.50,667.80 325.80,668.85 326.26,666.90 324.74,665.60 326.74,665.45" fill="#fff"/>
<circle cx="637.60" cy="630.50" r="3.0" fill="#fff" stroke="#e5505a" stroke-width="1.7"/>
<circle cx="644.70" cy="643.50" r="3.0" fill="#fff" stroke="#e5505a" stroke-width="1.7"/>
<circle cx="596.30" cy="695.60" r="3.0" fill="#fff" stroke="#e5505a" stroke-width="1.7"/>
<circle cx="603.30" cy="695.60" r="3.0" fill="#fff" stroke="#e5505a" stroke-width="1.7"/>
<path d="M637.60,630.50L637.60,628.40M637.60,630.50L639.60,629.85M637.60,630.50L638.83,632.20M637.60,630.50L636.37,632.20M637.60,630.50L635.60,629.85" stroke="#000" stroke-width="0.95" stroke-linecap="round" fill="none"/>
<path d="M644.70,643.50L644.70,641.40M644.70,643.50L646.70,642.85M644.70,643.50L645.93,645.20M644.70,643.50L643.47,645.20M644.70,643.50L642.70,642.85" stroke="#000" stroke-width="0.95" stroke-linecap="round" fill="none"/>
<path d="M596.30,695.60L596.30,693.50M596.30,695.60L598.30,694.95M596.30,695.60L597.53,697.30M596.30,695.60L595.07,697.30M596.30,695.60L594.30,694.95" stroke="#000" stroke-width="0.95" stroke-linecap="round" fill="none"/>
<path d="M603.30,695.60L603.30,693.50M603.30,695.60L605.30,694.95M603.30,695.60L604.53,697.30M603.30,695.60L602.07,697.30M603.30,695.60L601.30,694.95" stroke="#000" stroke-width="0.95" stroke-linecap="round" fill="none"/>
<text x="319.00" y="658.85" font-size="6" fill="#000" stroke="#000" stroke-width="0.12" text-anchor="start" font-weight="normal" >3-Hydroxybutyrate</text>
<text x="371.75" y="729.60" font-size="6" fill="#000" stroke="#000" stroke-width="0.12" text-anchor="start" font-weight="normal" >Inosine</text>
<text x="621.00" y="625.00" font-size="6" fill="#000" stroke="#000" stroke-width="0.12" text-anchor="start" font-weight="normal" >Betaine</text>
<text x="641.00" y="652.80" font-size="6" fill="#000" stroke="#000" stroke-width="0.12" text-anchor="start" font-weight="normal" >Lysine</text>
<text x="570.25" y="691.35" font-size="6" fill="#000" stroke="#000" stroke-width="0.12" text-anchor="start" font-weight="normal" >Fumarate</text>
<text x="612.00" y="699.10" font-size="6" fill="#000" stroke="#000" stroke-width="0.12" text-anchor="start" font-weight="normal" >Lactate</text>
</g>
</svg></div>
</body></html>
